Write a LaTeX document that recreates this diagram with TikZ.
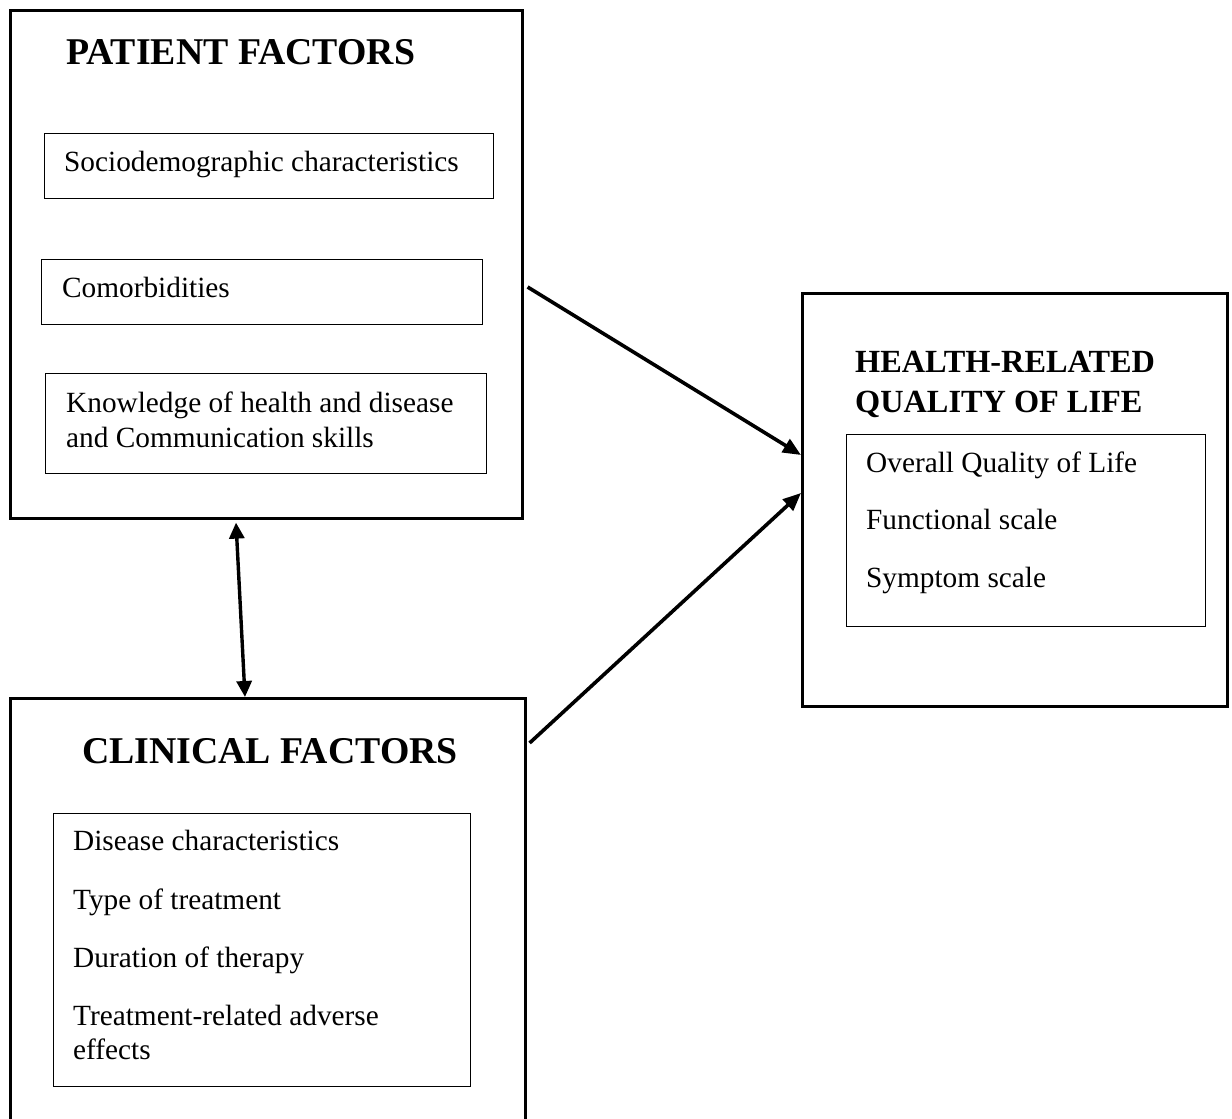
\documentclass[tikz,border=0pt]{standalone}
\usepackage{fontspec}
\setmainfont{Liberation Serif}
\usetikzlibrary{arrows.meta,calc}
\begin{document}
\begin{tikzpicture}[x=1bp,y=-1bp,
  outer/.style={draw, line width=2.6bp, inner sep=0, anchor=north west},
  inner/.style={draw, line width=1.2bp, inner sep=0, anchor=north west},
  body/.style={anchor=base west, inner sep=0, font=\fontsize{29.3bp}{35bp}\selectfont},
  bigtitle/.style={anchor=base west, inner sep=0, font=\fontsize{37.8bp}{44bp}\selectfont\bfseries},
  midtitle/.style={anchor=base west, inner sep=0, font=\fontsize{32.3bp}{40bp}\selectfont\bfseries},
  arr/.style={line width=3.6bp, -{Triangle[length=18bp,width=15bp]}},
  dblarr/.style={line width=3.4bp, {Triangle[length=16bp,width=15bp]}-{Triangle[length=16bp,width=15bp]}}
]
\clip (0,0) rectangle (1232,1119);
\fill[white] (0,0) rectangle (1232,1119);

% Patient factors
\node[outer, minimum width=512bp, minimum height=508bp] (pat) at (9,9) {};
\node[bigtitle] (patT) at (66,64) {PATIENT FACTORS};
\node[inner, minimum width=449bp, minimum height=65bp] (soc) at (44,133) {};
\node[body] (socT) at (64,171) {Sociodemographic characteristics};
\node[inner, minimum width=441bp, minimum height=65bp] (com) at (41,259) {};
\node[body] (comT) at (62,297) {Comorbidities};
\node[inner, minimum width=441bp, minimum height=100bp] (kno) at (45,373) {};
\node[body] (knoT1) at (66,412) {Knowledge of health and disease};
\node[body] (knoT2) at (66,447) {and Communication skills};

% Clinical factors
\node[outer, minimum width=515bp, minimum height=460bp] (clin) at (9,697) {};
\node[bigtitle] (clinT) at (82,763) {CLINICAL FACTORS};
\node[inner, minimum width=417bp, minimum height=273bp] (cli) at (53,813) {};
\node[body] (cl1) at (73,850) {Disease characteristics};
\node[body] (cl2) at (73,909) {Type of treatment};
\node[body] (cl3) at (73,967) {Duration of therapy};
\node[body] (cl4a) at (73,1025) {Treatment-related adverse};
\node[body] (cl4b) at (73,1059) {effects};

% HRQoL
\node[outer, minimum width=425bp, minimum height=413bp] (hr) at (801,292) {};
\node[midtitle] (hrT1) at (855,372) {HEALTH-RELATED};
\node[midtitle] (hrT2) at (855,412) {QUALITY OF LIFE};
\node[inner, minimum width=359bp, minimum height=192bp] (hri) at (846,434) {};
\node[body] (hr1) at (866,472) {Overall Quality of Life};
\node[body] (hr2) at (866,529) {Functional scale};
\node[body] (hr3) at (866,587) {Symptom scale};

% Connectors
\draw[arr] ($(pat.north east)+(4,278)$) -- ($(hr.north west)+(0,163)$);
\draw[arr] ($(clin.north east)+(3,46)$) -- ($(hr.north west)+(0,201)$);
\draw[dblarr] ($(pat.south west)+(227,3)$) -- ($(clin.north west)+(236,0)$);
\end{tikzpicture}
\end{document}
